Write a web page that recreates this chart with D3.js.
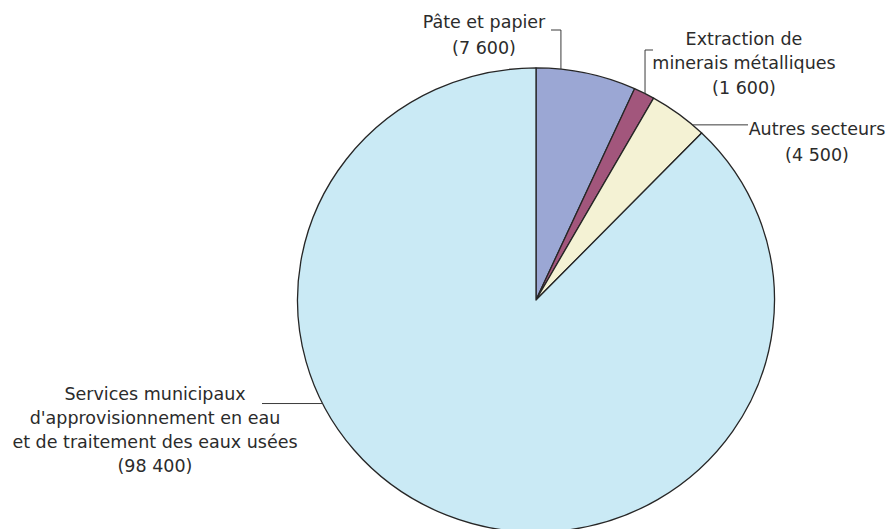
<!DOCTYPE html>
<html>
<head>
<meta charset="utf-8">
<script src="https://cdn.jsdelivr.net/npm/d3@7/dist/d3.min.js"></script>
<style>
  html, body { margin: 0; padding: 0; background: #ffffff; }
  svg { display: block; }
  text { font-family: "DejaVu Sans", "Open Sans", sans-serif; font-size: 17.5px; fill: #2b2b2b; }
</style>
</head>
<body>
<svg id="chart" width="888" height="529"></svg>
<script>
// Sectors and their volumes
const sectors = ["Pâte et papier", "Extraction de minerais métalliques", "Autres secteurs",
  "Services municipaux d'approvisionnement en eau et de traitement des eaux usées"];
const values = [7600, 1600, 4500, 98400];
const valueLabels = ["(7 600)", "(1 600)", "(4 500)", "(98 400)"];
const labelLines = [
  ["Pâte et papier"],
  ["Extraction de", "minerais métalliques"],
  ["Autres secteurs"],
  ["Services municipaux", "d'approvisionnement en eau", "et de traitement des eaux usées"]
];
const colors = ["#9ba7d4", "#a2567c", "#f4f2d4", "#caeaf5"];

const svg = d3.select("#chart");
const cx = 536, cy = 300, r = 238.5, ky = 0.973;

const pie = d3.pie().sort(null).value(d => d)(values);
const arc = d3.arc().innerRadius(0).outerRadius(r);

const g = svg.append("g").attr("transform", `translate(${cx},${cy}) scale(1,${ky})`);
g.selectAll("path")
  .data(pie)
  .join("path")
  .attr("d", arc)
  .attr("fill", (d, i) => colors[i])
  .attr("stroke", "#262626")
  .attr("stroke-width", 1.3)
  .attr("stroke-linejoin", "round")
  .attr("vector-effect", "non-scaling-stroke");

// point on the rim at a given angle (degrees, clockwise from top)
function rim(deg) {
  const a = deg * Math.PI / 180;
  return [cx + r * Math.sin(a), cy - r * Math.cos(a) * ky];
}

// Leader lines
const line = d3.line();
const p0 = rim(6);
const p1 = rim(27.2);
const p2 = rim(41);
const p3 = rim(243.5);
const leaders = [
  [p0, [p0[0], 30], [551, 30]],
  [p1, [p1[0], 50], [p1[0] + 8, 50]],
  [p2, [748, p2[1]]],
  [p3, [262, p3[1]]]
];
svg.append("g").selectAll("path")
  .data(leaders)
  .join("path")
  .attr("d", d => line(d))
  .attr("fill", "none")
  .attr("stroke", "#3a3a3a")
  .attr("stroke-width", 1);

// Label blocks: centre x and first baseline
const labelPos = [
  { x: 484, y: 28, lh: 25.5 },
  { x: 744, y: 45, lh: 24.3 },
  { x: 817, y: 135, lh: 26 },
  { x: 155, y: 400, lh: 24 }
];
labelPos.forEach((p, i) => {
  const lines = labelLines[i].concat([valueLabels[i]]);
  const t = svg.append("text").attr("text-anchor", "middle");
  lines.forEach((s, j) => {
    t.append("tspan").attr("x", p.x).attr("y", p.y + j * p.lh).text(s);
  });
});
</script>
</body>
</html>
